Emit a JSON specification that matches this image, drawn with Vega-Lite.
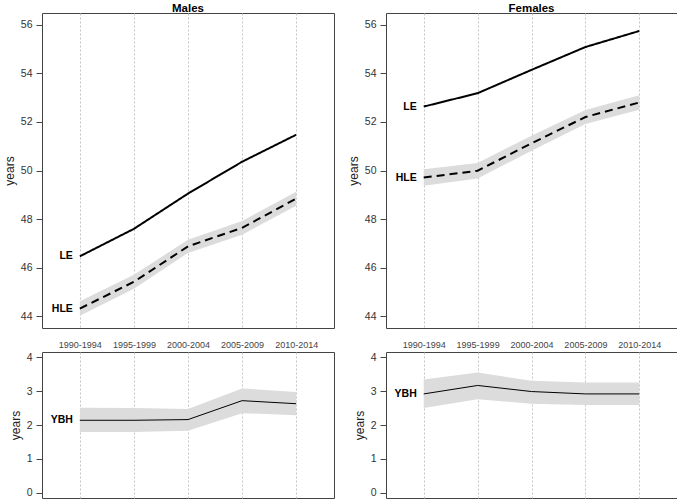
{
  "$schema": "https://vega.github.io/schema/vega-lite/v6.json",
  "padding": {"left": 2, "top": 2, "right": 0, "bottom": 0},
  "background": "white",
  "datasets": {
    "hle": [
      {"sex": "Males", "period": "1990-1994", "measure": "LE", "value": 46.47, "lo": null, "hi": null},
      {"sex": "Males", "period": "1995-1999", "measure": "LE", "value": 47.6, "lo": null, "hi": null},
      {"sex": "Males", "period": "2000-2004", "measure": "LE", "value": 49.05, "lo": null, "hi": null},
      {"sex": "Males", "period": "2005-2009", "measure": "LE", "value": 50.36, "lo": null, "hi": null},
      {"sex": "Males", "period": "2010-2014", "measure": "LE", "value": 51.47, "lo": null, "hi": null},
      {"sex": "Males", "period": "1990-1994", "measure": "HLE", "value": 44.32, "lo": 44.02, "hi": 44.62},
      {"sex": "Males", "period": "1995-1999", "measure": "HLE", "value": 45.42, "lo": 45.13, "hi": 45.71},
      {"sex": "Males", "period": "2000-2004", "measure": "HLE", "value": 46.88, "lo": 46.61, "hi": 47.15},
      {"sex": "Males", "period": "2005-2009", "measure": "HLE", "value": 47.64, "lo": 47.36, "hi": 47.92},
      {"sex": "Males", "period": "2010-2014", "measure": "HLE", "value": 48.84, "lo": 48.55, "hi": 49.13},
      {"sex": "Females", "period": "1990-1994", "measure": "LE", "value": 52.63, "lo": null, "hi": null},
      {"sex": "Females", "period": "1995-1999", "measure": "LE", "value": 53.18, "lo": null, "hi": null},
      {"sex": "Females", "period": "2000-2004", "measure": "LE", "value": 54.14, "lo": null, "hi": null},
      {"sex": "Females", "period": "2005-2009", "measure": "LE", "value": 55.08, "lo": null, "hi": null},
      {"sex": "Females", "period": "2010-2014", "measure": "LE", "value": 55.74, "lo": null, "hi": null},
      {"sex": "Females", "period": "1990-1994", "measure": "HLE", "value": 49.71, "lo": 49.37, "hi": 50.05},
      {"sex": "Females", "period": "1995-1999", "measure": "HLE", "value": 49.99, "lo": 49.67, "hi": 50.31},
      {"sex": "Females", "period": "2000-2004", "measure": "HLE", "value": 51.12, "lo": 50.81, "hi": 51.43},
      {"sex": "Females", "period": "2005-2009", "measure": "HLE", "value": 52.2, "lo": 51.91, "hi": 52.49},
      {"sex": "Females", "period": "2010-2014", "measure": "HLE", "value": 52.8, "lo": 52.5, "hi": 53.1},
      {"sex": "Males", "period": "1990-1994", "measure": "YBH", "value": 2.14, "lo": 1.79, "hi": 2.51},
      {"sex": "Males", "period": "1995-1999", "measure": "YBH", "value": 2.14, "lo": 1.79, "hi": 2.5},
      {"sex": "Males", "period": "2000-2004", "measure": "YBH", "value": 2.16, "lo": 1.83, "hi": 2.47},
      {"sex": "Males", "period": "2005-2009", "measure": "YBH", "value": 2.72, "lo": 2.35, "hi": 3.08},
      {"sex": "Males", "period": "2010-2014", "measure": "YBH", "value": 2.63, "lo": 2.29, "hi": 2.98},
      {"sex": "Females", "period": "1990-1994", "measure": "YBH", "value": 2.92, "lo": 2.5, "hi": 3.35},
      {"sex": "Females", "period": "1995-1999", "measure": "YBH", "value": 3.17, "lo": 2.76, "hi": 3.55},
      {"sex": "Females", "period": "2000-2004", "measure": "YBH", "value": 2.99, "lo": 2.63, "hi": 3.31},
      {"sex": "Females", "period": "2005-2009", "measure": "YBH", "value": 2.92, "lo": 2.59, "hi": 3.26},
      {"sex": "Females", "period": "2010-2014", "measure": "YBH", "value": 2.92, "lo": 2.59, "hi": 3.26}
    ]
  },
  "data": {"name": "hle"},
  "columns": 2,
  "bounds": "flush",
  "spacing": {"row": 24, "column": 52},
  "concat": [
    {
      "width": 292, "height": 315,
      "title": {"text": "Males"},
      "transform": [{"filter": "datum.sex == 'Males' && datum.measure != 'YBH'"}],
      "encoding": {
        "x": {"field": "period", "type": "ordinal", "scale": {"type": "point", "padding": 0.7}, "axis": {"labels": false, "ticks": false, "domain": false, "title": null, "grid": true}}
      },
      "layer": [
        {"transform": [{"filter": "datum.measure == 'HLE'"}], "mark": {"type": "area", "color": "#dcdcdc", "opacity": 1},
         "encoding": {"y": {"field": "lo", "type": "quantitative", "title": "years", "scale": {"domain": [43.52, 56.48], "nice": false, "zero": false}, "axis": {"values": [44, 46, 48, 50, 52, 54, 56]}}, "y2": {"field": "hi"}}},
        {"mark": {"type": "line", "color": "black", "strokeWidth": 2},
         "encoding": {"y": {"field": "value", "type": "quantitative", "title": "years", "scale": {"domain": [43.52, 56.48], "nice": false, "zero": false}, "axis": {"values": [44, 46, 48, 50, 52, 54, 56]}},
          "strokeDash": {"field": "measure", "type": "nominal", "scale": {"domain": ["LE", "HLE"], "range": [[1, 0], [8, 5]]}, "legend": null}}},
        {"transform": [{"filter": "datum.period == '1990-1994'"}], "mark": {"type": "text", "align": "right", "baseline": "middle", "dx": -7, "fontWeight": "bold", "fontSize": 10.5, "font": "Liberation Sans", "color": "black"},
         "encoding": {"y": {"field": "value", "type": "quantitative", "title": "years", "scale": {"domain": [43.52, 56.48], "nice": false, "zero": false}, "axis": {"values": [44, 46, 48, 50, 52, 54, 56]}}, "text": {"field": "measure"}}}
      ]
    },
    {
      "width": 291, "height": 315,
      "title": {"text": "Females"},
      "transform": [{"filter": "datum.sex == 'Females' && datum.measure != 'YBH'"}],
      "encoding": {
        "x": {"field": "period", "type": "ordinal", "scale": {"type": "point", "padding": 0.7}, "axis": {"labels": false, "ticks": false, "domain": false, "title": null, "grid": true}}
      },
      "layer": [
        {"transform": [{"filter": "datum.measure == 'HLE'"}], "mark": {"type": "area", "color": "#dcdcdc", "opacity": 1},
         "encoding": {"y": {"field": "lo", "type": "quantitative", "title": "years", "scale": {"domain": [43.52, 56.48], "nice": false, "zero": false}, "axis": {"values": [44, 46, 48, 50, 52, 54, 56]}}, "y2": {"field": "hi"}}},
        {"mark": {"type": "line", "color": "black", "strokeWidth": 2},
         "encoding": {"y": {"field": "value", "type": "quantitative", "title": "years", "scale": {"domain": [43.52, 56.48], "nice": false, "zero": false}, "axis": {"values": [44, 46, 48, 50, 52, 54, 56]}},
          "strokeDash": {"field": "measure", "type": "nominal", "scale": {"domain": ["LE", "HLE"], "range": [[1, 0], [8, 5]]}, "legend": null}}},
        {"transform": [{"filter": "datum.period == '1990-1994'"}], "mark": {"type": "text", "align": "right", "baseline": "middle", "dx": -7, "fontWeight": "bold", "fontSize": 10.5, "font": "Liberation Sans", "color": "black"},
         "encoding": {"y": {"field": "value", "type": "quantitative", "title": "years", "scale": {"domain": [43.52, 56.48], "nice": false, "zero": false}, "axis": {"values": [44, 46, 48, 50, 52, 54, 56]}}, "text": {"field": "measure"}}}
      ]
    },
    {
      "width": 292, "height": 146,
      "transform": [{"filter": "datum.sex == 'Males' && datum.measure == 'YBH'"}],
      "encoding": {
        "x": {"field": "period", "type": "ordinal", "scale": {"type": "point", "padding": 0.7}, "axis": {"orient": "top", "labels": true, "ticks": false, "domain": false, "title": null, "grid": true, "labelAngle": 0, "labelFontSize": 9, "labelPadding": 3, "labelColor": "#444"}}
      },
      "layer": [
        {"mark": {"type": "area", "color": "#dcdcdc", "opacity": 1},
         "encoding": {"y": {"field": "lo", "type": "quantitative", "title": "years", "scale": {"domain": [-0.16, 4.16], "nice": false, "zero": false}, "axis": {"values": [0, 1, 2, 3, 4]}}, "y2": {"field": "hi"}}},
        {"mark": {"type": "line", "color": "black", "strokeWidth": 1},
         "encoding": {"y": {"field": "value", "type": "quantitative", "title": "years", "scale": {"domain": [-0.16, 4.16], "nice": false, "zero": false}, "axis": {"values": [0, 1, 2, 3, 4]}}}},
        {"transform": [{"filter": "datum.period == '1990-1994'"}], "mark": {"type": "text", "align": "right", "baseline": "middle", "dx": -7, "fontWeight": "bold", "fontSize": 10.5, "font": "Liberation Sans", "color": "black"},
         "encoding": {"y": {"field": "value", "type": "quantitative", "title": "years", "scale": {"domain": [-0.16, 4.16], "nice": false, "zero": false}, "axis": {"values": [0, 1, 2, 3, 4]}}, "text": {"field": "measure"}}}
      ]
    },
    {
      "width": 291, "height": 146,
      "transform": [{"filter": "datum.sex == 'Females' && datum.measure == 'YBH'"}],
      "encoding": {
        "x": {"field": "period", "type": "ordinal", "scale": {"type": "point", "padding": 0.7}, "axis": {"orient": "top", "labels": true, "ticks": false, "domain": false, "title": null, "grid": true, "labelAngle": 0, "labelFontSize": 9, "labelPadding": 3, "labelColor": "#444"}}
      },
      "layer": [
        {"mark": {"type": "area", "color": "#dcdcdc", "opacity": 1},
         "encoding": {"y": {"field": "lo", "type": "quantitative", "title": "years", "scale": {"domain": [-0.16, 4.16], "nice": false, "zero": false}, "axis": {"values": [0, 1, 2, 3, 4]}}, "y2": {"field": "hi"}}},
        {"mark": {"type": "line", "color": "black", "strokeWidth": 1},
         "encoding": {"y": {"field": "value", "type": "quantitative", "title": "years", "scale": {"domain": [-0.16, 4.16], "nice": false, "zero": false}, "axis": {"values": [0, 1, 2, 3, 4]}}}},
        {"transform": [{"filter": "datum.period == '1990-1994'"}], "mark": {"type": "text", "align": "right", "baseline": "middle", "dx": -7, "fontWeight": "bold", "fontSize": 10.5, "font": "Liberation Sans", "color": "black"},
         "encoding": {"y": {"field": "value", "type": "quantitative", "title": "years", "scale": {"domain": [-0.16, 4.16], "nice": false, "zero": false}, "axis": {"values": [0, 1, 2, 3, 4]}}, "text": {"field": "measure"}}}
      ]
    }
  ],
  "config": {
    "font": "Liberation Sans",
    "view": {"stroke": "#444", "strokeWidth": 1},
    "title": {"fontSize": 11.5, "fontWeight": "bold", "color": "black", "offset": -1, "anchor": "middle", "font": "Liberation Sans"},
    "axis": {"labelFont": "Liberation Sans", "titleFont": "Liberation Sans", "gridColor": "#c4c4c4", "gridDash": [2, 2], "gridWidth": 1},
    "axisY": {"labelAngle": 0, "labelFontSize": 10.5, "labelColor": "#333", "tickColor": "#444", "tickSize": 6, "labelPadding": 4, "domain": false, "grid": false, "titleFontSize": 12, "titleFontWeight": "normal", "titleColor": "#222", "titlePadding": 4}
  }
}
